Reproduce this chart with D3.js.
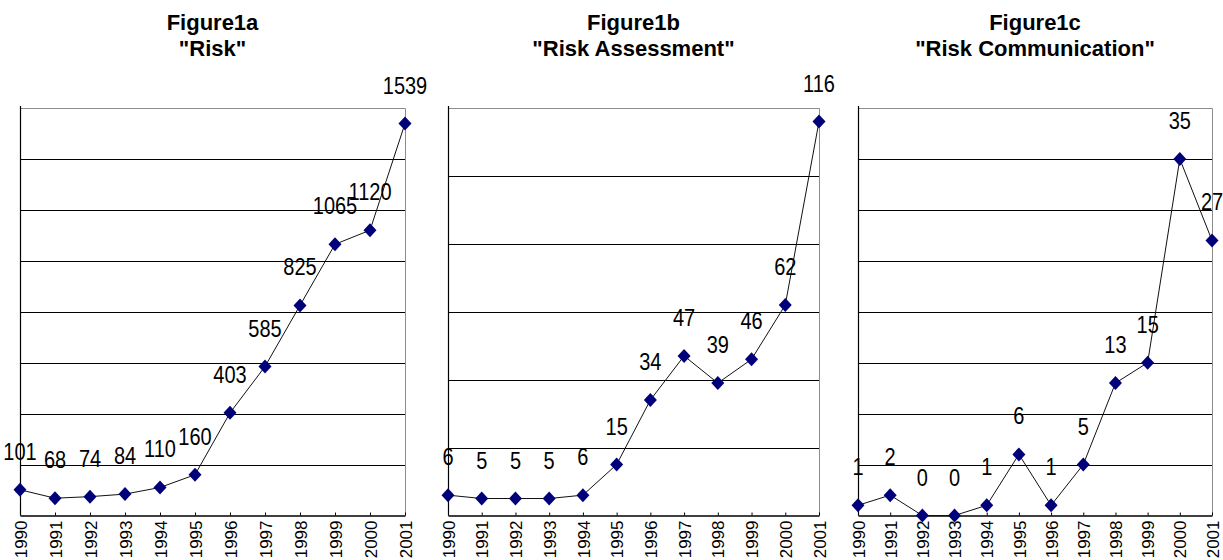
<!DOCTYPE html>
<html>
<head>
<meta charset="utf-8">
<script src="https://cdn.jsdelivr.net/npm/d3@7"></script>
<style>
  html, body { margin: 0; padding: 0; background: #fff; }
  svg { display: block; font-family: "Liberation Sans", Arial, sans-serif; }
</style>
</head>
<body>
<svg id="chart" width="1223" height="560"></svg>
<script>
// Yearly publication counts for three search terms
const years = ["1990", "1991", "1992", "1993", "1994", "1995", "1996", "1997", "1998", "1999", "2000", "2001"];
const riskValues = [101, 68, 74, 84, 110, 160, 403, 585, 825, 1065, 1120, 1539];
const assessmentValues = [6, 5, 5, 5, 6, 15, 34, 47, 39, 46, 62, 116];
const communicationValues = [1, 2, 0, 0, 1, 6, 1, 5, 13, 15, 35, 27];
const figureNames = ["Figure1a", "Figure1b", "Figure1c"];
const subtitles = ["\"Risk\"", "\"Risk Assessment\"", "\"Risk Communication\""];
const axisMax = [1600, 120, 40];
const gridStep = [200, 20, 5];

const panels = [
  { values: riskValues, left: 20, right: 405 },
  { values: assessmentValues, left: 448, right: 819 },
  { values: communicationValues, left: 858, right: 1212 }
];

const svg = d3.select("#chart");
const plotTop = 108, plotBottom = 515.5;

// diamond marker
function diamond(cx, cy, w, h) {
  const p = d3.path();
  p.moveTo(cx, cy - h);
  p.lineTo(cx + w, cy);
  p.lineTo(cx, cy + h);
  p.lineTo(cx - w, cy);
  p.closePath();
  return p.toString();
}

panels.forEach((panel, i) => {
  const g = svg.append("g");
  const x = d3.scalePoint().domain(years).range([panel.left, panel.right]);
  const y = d3.scaleLinear().domain([0, axisMax[i]]).range([plotBottom, plotTop]);
  const cx = (panel.left + panel.right) / 2;

  // titles
  g.append("text")
    .attr("x", cx).attr("y", 30)
    .attr("text-anchor", "middle")
    .attr("font-size", 22).attr("font-weight", "bold")
    .text(figureNames[i]);
  g.append("text")
    .attr("x", cx).attr("y", 56)
    .attr("text-anchor", "middle")
    .attr("font-size", 22).attr("font-weight", "bold")
    .text(subtitles[i]);

  // plot-area frame (top / right in grey)
  g.append("path")
    .attr("d", `M${panel.left},${plotTop + 0.5}H${panel.right + 0.5}V${plotBottom}`)
    .attr("fill", "none").attr("stroke", "#8c8c8c").attr("stroke-width", 1);

  // horizontal gridlines
  const gridVals = d3.range(gridStep[i], axisMax[i], gridStep[i]);
  g.append("g")
    .attr("transform", `translate(${panel.left},0)`)
    .call(d3.axisLeft(y).tickValues(gridVals).tickSize(-(panel.right - panel.left)).tickFormat(""))
    .call(a => a.select(".domain").remove())
    .call(a => a.selectAll(".tick line").attr("stroke", "#000").attr("shape-rendering", "crispEdges"));

  // value axis line
  g.append("line")
    .attr("x1", panel.left + 0.5).attr("x2", panel.left + 0.5)
    .attr("y1", plotTop - 2).attr("y2", plotBottom)
    .attr("stroke", "#000").attr("stroke-width", 1.2);

  // category axis with year labels
  const xa = g.append("g")
    .attr("transform", `translate(0,${plotBottom})`)
    .call(d3.axisBottom(x).tickSize(-3).tickSizeOuter(0));
  xa.select(".domain").attr("stroke", "#000").attr("stroke-width", 1.4);
  xa.selectAll(".tick line").attr("stroke", "#000");
  xa.selectAll(".tick text")
    .attr("font-size", 17)
    .attr("font-family", "Liberation Sans, Arial, sans-serif")
    .attr("fill", "#000")
    .attr("text-anchor", "end")
    .attr("transform", "rotate(-90)")
    .attr("x", -5)
    .attr("y", 0)
    .attr("dy", "0.36em");

  // series line
  const line = d3.line().x((d, k) => x(years[k])).y(d => y(d));
  g.append("path")
    .datum(panel.values)
    .attr("d", line)
    .attr("fill", "none")
    .attr("stroke", "#111")
    .attr("stroke-width", 1);

  // markers
  g.selectAll(".pt")
    .data(panel.values)
    .join("path")
    .attr("class", "pt")
    .attr("d", (d, k) => diamond(x(years[k]), y(d), 6.5, 7))
    .attr("fill", "#00007a");

  // value labels
  g.selectAll(".lbl")
    .data(panel.values)
    .join("text")
    .attr("class", "lbl")
    .attr("transform", (d, k) => `translate(${x(years[k])},${y(d) - 30}) scale(1,1.18)`)
    .attr("text-anchor", "middle")
    .attr("font-size", 20)
    .attr("fill", "#000")
    .text(d => d);
});
</script>
</body>
</html>
